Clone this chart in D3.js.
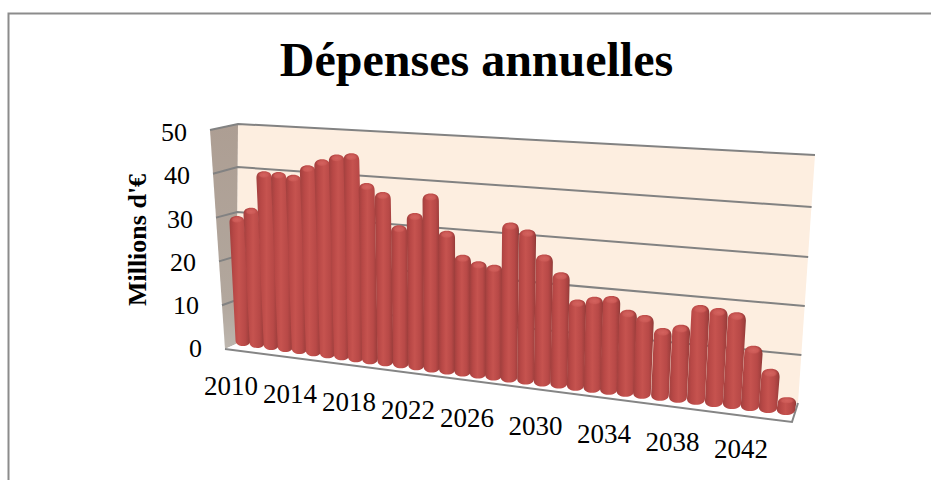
<!DOCTYPE html>
<html>
<head>
<meta charset="utf-8">
<script src="https://cdn.jsdelivr.net/npm/d3@7"></script>
<style>
html,body{margin:0;padding:0;background:#fff}
svg{display:block}
text{font-family:"Liberation Serif","Times New Roman",serif;fill:#000}
</style>
</head>
<body>
<svg id="chart" width="931" height="480"></svg>
<script>
// Annual spending, one value per year (millions of euros)
const years = d3.range(2010, 2045);
const spending = [29.2,31.4,40,40.1,39.7,42.1,43.7,45,45.5,39.2,37.5,30.6,33.5,38,30.3,25.5,24.4,24,
  33.2,32,27.1,23.7,18.4,19.3,19.8,17.3,16.6,14.3,15.3,19.6,19.3,18.8,12.5,8.3,3.1];
const valueTicks = [0,10,20,30,40,50];
const yearLabels = [2010,2014,2018,2022,2026,2030,2034,2038,2042];
const chartTitle = "Dépenses annuelles";
const valueTitle = "Millions d'€";

const svg = d3.select("#chart");
const defs = svg.append("defs");

// Perspective of the box: back wall edges, outer edge of the side wall
const backLeftY = d3.scaleLinear(valueTicks,[344,300,256,212,167,124]);
const backRightY = d3.scaleLinear(valueTicks,[403,355,306,257,207,155]);
const backLeftX = d3.scaleLinear([0,50],[236,238]);
const backRightX = d3.scaleLinear([0,50],[798,815]);
const sideY = d3.scaleLinear([0,50],[349,130]);
const sideX = d3.scaleLinear([0,50],[225,210]);

// Column feet recede along the floor, spacing widens to the right
const footX = d3.scaleLinear([0,9,18,26,34],[243,370,509,642,786]);
const footY = d3.scaleLinear([0,34],[344,413]);
const unitHeight = d3.scaleLinear([0,34],[4.38,5.1]);
const lean = d3.scaleLinear([0,34],[-0.047,0.06]);
const colWidth = d3.scaleLinear([0,34],[15,18.5]);

// Frame around the chart
svg.append("path").attr("d","M8.5,480V13.5H931").attr("fill","none").attr("stroke","#8c8c8c").attr("stroke-width",2);

// Shading
const sideGrad = defs.append("linearGradient").attr("id","sideWall").attr("x1",0).attr("y1",0).attr("x2",0).attr("y2",1);
sideGrad.append("stop").attr("offset",0).attr("stop-color","#ad9e93");
sideGrad.append("stop").attr("offset",0.8).attr("stop-color","#b2a79d");
sideGrad.append("stop").attr("offset",1).attr("stop-color","#bdb6ae");
const barGrad = defs.append("linearGradient").attr("id","barBody");
[[0,"#a2403e"],[0.2,"#b84846"],[0.45,"#c6534f"],[0.75,"#b84947"],[0.93,"#a03f3d"],[1,"#873634"]].forEach(([o,c]) =>
  barGrad.append("stop").attr("offset",o).attr("stop-color",c));
const capGrad = defs.append("radialGradient").attr("id","barCap");
[[0,"#d4625e"],[0.65,"#cc5a56"],[1,"#c4524f"]].forEach(([o,c]) =>
  capGrad.append("stop").attr("offset",o).attr("stop-color",c).attr("stop-opacity",o===1?0:1));

// Back wall, side wall and floor
svg.append("polygon").attr("fill","#fdeee0")
  .attr("points",[[backLeftX(0),backLeftY(0)],[backLeftX(50),backLeftY(50)],[backRightX(50),backRightY(50)],[backRightX(0),backRightY(0)]].join(" "));
svg.append("polygon").attr("fill","url(#sideWall)")
  .attr("points",[[sideX(0),sideY(0)],[sideX(50),sideY(50)],[backLeftX(50),backLeftY(50)],[backLeftX(0),backLeftY(0)]].join(" "));
const floorFront = [[sideX(0),sideY(0)],[792,422],[backRightX(0),backRightY(0)]];
svg.append("polygon").attr("fill","#fff")
  .attr("points",[[backLeftX(0),backLeftY(0)],...floorFront].join(" "));
svg.append("polyline").attr("fill","none").attr("stroke","#858585").attr("stroke-width",2)
  .attr("points",floorFront.join(" "));

// Gridlines run across the back wall and round onto the side wall
svg.append("g").selectAll("path").data(valueTicks.slice(1)).join("path")
  .attr("fill","none").attr("stroke","#828282").attr("stroke-width",2)
  .attr("d",v => d3.line()([[sideX(v),sideY(v)],[backLeftX(v),backLeftY(v)],[backRightX(v),backRightY(v)]]));

// Columns, drawn left to right so each one covers its neighbour's shadow side
const bars = svg.append("g").selectAll("g").data(spending).join("g");
const geom = (v,i) => {
  const h = v*unitHeight(i), w = colWidth(i)/2;
  const bx = footX(i), by = footY(i), tx = bx + lean(i)*h, ty = by - h;
  return {bx,by,tx,ty,w,ry:Math.min(w*0.9,h*0.4)};
};
bars.append("path").attr("fill","url(#barBody)")
  .attr("d",(v,i) => {
    const {bx,by,tx,ty,w,ry} = geom(v,i);
    return `M${bx-w},${by-4}L${tx-w},${ty+ry}C${tx-w},${ty+ry*0.3} ${tx-w*0.65},${ty} ${tx},${ty}`
      + `C${tx+w*0.65},${ty} ${tx+w},${ty+ry*0.3} ${tx+w},${ty+ry}L${bx+w},${by-4}`
      + `C${bx+w},${by} ${bx+w*0.55},${by+2} ${bx},${by+2}C${bx-w*0.55},${by+2} ${bx-w},${by} ${bx-w},${by-4}Z`;
  });
bars.append("ellipse").attr("fill","url(#barCap)")
  .attr("cx",(v,i) => geom(v,i).tx)
  .attr("cy",(v,i) => geom(v,i).ty+geom(v,i).ry*0.55)
  .attr("rx",(v,i) => geom(v,i).w*0.8)
  .attr("ry",(v,i) => geom(v,i).ry*0.5);

// Title and axis text
svg.append("text").attr("x",476.5).attr("y",76).attr("text-anchor","middle")
  .attr("font-size",48).attr("font-weight","bold").text(chartTitle);
svg.append("text").attr("transform","translate(146,240) rotate(-90)").attr("text-anchor","middle")
  .attr("font-size",26).attr("font-weight","bold").text(valueTitle);

const tickRight = d3.scaleLinear([0,50],[202,187]);
const tickMid = d3.scaleLinear([0,50],[348,132]);
svg.append("g").selectAll("text").data(valueTicks).join("text")
  .attr("x",tickRight).attr("y",tickMid).attr("dy","0.35em")
  .attr("text-anchor","end").attr("font-size",26).text(d => d);

// Year labels sit below the front edge of the floor
const labelX = d3.scaleLinear([2010,2026,2042],[231,467,741]);
const labelY = d3.scaleLinear([2010,2042],[386,449]);
svg.append("g").selectAll("text").data(yearLabels).join("text")
  .attr("x",labelX).attr("y",labelY).attr("dy","0.35em")
  .attr("text-anchor","middle").attr("font-size",27).text(d => d);
</script>
</body>
</html>
